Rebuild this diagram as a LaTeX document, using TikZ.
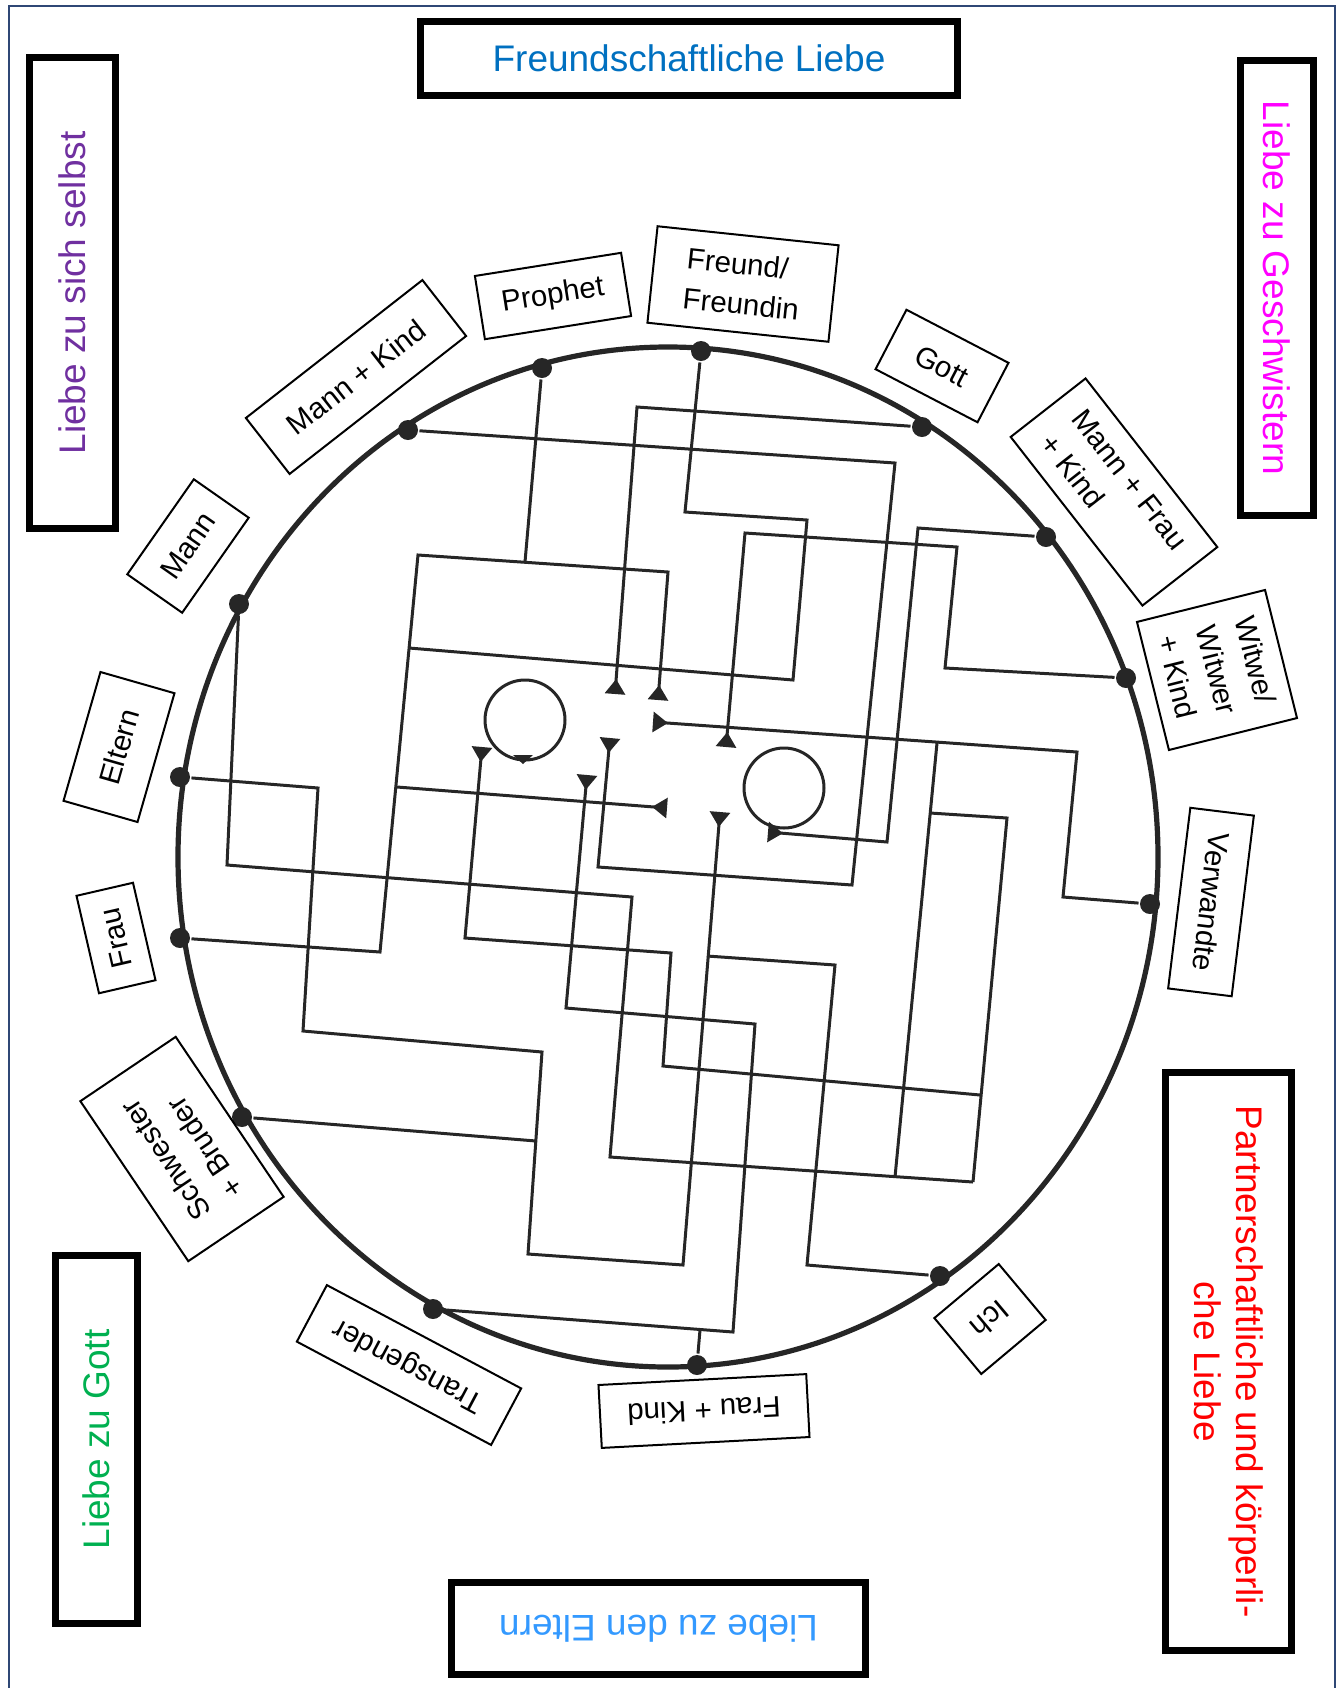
\documentclass[tikz,border=0pt]{standalone}
\usepackage{fontspec}
\setmainfont{Liberation Sans}
\usetikzlibrary{arrows.meta}

\definecolor{framenavy}{HTML}{2F4775}
\definecolor{freundblue}{HTML}{0070C0}
\definecolor{selbstpurple}{HTML}{7030A0}
\definecolor{geschwmagenta}{HTML}{FF00FF}
\definecolor{gottgreen}{HTML}{00B050}
\definecolor{elternblue}{HTML}{3399FF}
\definecolor{partnerred}{HTML}{FF0000}
\definecolor{ink}{HTML}{262626}

\tikzset{every picture/.style={line width=1.5pt}}
\tikzset{
  knot/.style={circle,fill=ink,inner sep=0pt,minimum size=10pt},
  rim/.style={draw=ink,line width=2.6pt},
  maze/.style={draw=ink,line width=1.5pt},
  endtip/.style={-{Triangle[reversed,length=7.5pt,width=10pt]}},
  labelbox/.style={draw,line width=1pt,inner sep=1pt,font=\fontsize{14.75}{20}\selectfont},
  titlebox/.style={draw,line width=3.5pt,inner sep=0pt,font=\fontsize{18.5}{21}\selectfont},
}

\begin{document}
\begin{tikzpicture}[x=0.5pt,y=0.5pt,yscale=-1,xscale=1]
%set diagram to the page: 1341 x 1688
\useasboundingbox (0,0) rectangle (1341,1688);

%Straight Lines: page frame
\draw[draw=framenavy,line width=1pt] (9,1688) -- (9,6) -- (1335,6) -- (1335,1688);

%Shape: Ellipse
\draw[rim] (668,857) ellipse [x radius=490,y radius=510];

%Knots on the ring
\node[knot] (dFreund) at (701,351) {};
\node[knot] (dProphet) at (542,368) {};
\node[knot] (dMannKind) at (408,430) {};
\node[knot] (dMann) at (239,604) {};
\node[knot] (dEltern) at (180,777) {};
\node[knot] (dFrau) at (180,938) {};
\node[knot] (dSchwester) at (242,1117) {};
\node[knot] (dTrans) at (433,1309) {};
\node[knot] (dFrauKind) at (697,1365) {};
\node[knot] (dIch) at (940,1276) {};
\node[knot] (dVerwandte) at (1150,904) {};
\node[knot] (dWitwe) at (1126,678) {};
\node[knot] (dMannFrau) at (1046,537) {};
\node[knot] (dGott) at (922,427) {};

%Line ends and junctions
\coordinate (eFrau) at (658,700);
\coordinate (eGott) at (615,694);
\coordinate (eMannKind) at (610,738);
\coordinate (eKreis) at (768,832);
\coordinate (eWitwe) at (726,747);
\coordinate (eVerwandte) at (653,722);
\coordinate (eMitte) at (667,808);
\coordinate (eRechts) at (482,747);
\coordinate (eEltern) at (720,812);
\coordinate (eTrans) at (587,775);
\coordinate (jProphet) at (525,562);
\coordinate (jFreund) at (409,648);
\coordinate (jLinks) at (397,787);
\coordinate (jVerw) at (937,743);
\coordinate (jUnten) at (895,1177);
\coordinate (jSchleife) at (930,813);
\coordinate (jMann) at (973,1182);
\coordinate (jRechts) at (980,1095);
\coordinate (jSchwester) at (536,1141);
\coordinate (jFrauKind) at (700,1330);
\coordinate (jIch) at (707,956);

%Straight Lines
\draw[maze,endtip] (dFrau) -- (380,952) -- (418,555) -- (668,572) -- (eFrau);
%Straight Lines
\draw[maze] (dProphet) -- (jProphet);
%Straight Lines
\draw[maze] (dFreund) -- (685,512) -- (807,520) -- (793,680) -- (jFreund);
%Straight Lines
\draw[maze,endtip] (jLinks) -- (eMitte);
%Straight Lines
\draw[maze,endtip] (dGott) -- (637,407) -- (eGott);
%Straight Lines
\draw[maze,endtip] (dMannKind) -- (895,463) -- (852,885) -- (598,867) -- (eMannKind);
%Straight Lines
\draw[maze,endtip] (dMannFrau) -- (918,528) -- (887,842) -- (eKreis);
%Straight Lines
\draw[maze,endtip] (dWitwe) -- (945,668) -- (957,547) -- (745,533) -- (eWitwe);
%Straight Lines
\draw[maze,endtip] (dVerwandte) -- (1063,897) -- (1077,752) -- (eVerwandte);
%Straight Lines
\draw[maze] (jVerw) -- (jUnten);
%Straight Lines
\draw[maze] (jSchleife) -- (1007,818) -- (jMann);
%Straight Lines
\draw[maze] (dMann) -- (227,865) -- (632,897) -- (610,1157) -- (jMann);
%Straight Lines
\draw[maze,endtip] (jRechts) -- (663,1066) -- (671,953) -- (465,938) -- (eRechts);
%Straight Lines
\draw[maze,endtip] (dEltern) -- (318,788) -- (303,1031) -- (542,1052) -- (528,1254) -- (683,1265) -- (eEltern);
%Straight Lines
\draw[maze] (dSchwester) -- (jSchwester);
%Straight Lines
\draw[maze,endtip] (dTrans) -- (733,1332) -- (755,1024) -- (566,1008) -- (eTrans);
%Straight Lines
\draw[maze] (dFrauKind) -- (jFrauKind);
%Straight Lines
\draw[maze] (dIch) -- (807,1265) -- (835,965) -- (jIch);

%Shape: Circle
\draw[maze] (525,720) circle [radius=40];
\fill[ink] (513,755) -- (533,755) -- (523,764) -- cycle;
%Shape: Circle
\draw[maze] (784,788) circle [radius=40];

% Text Node
\node[labelbox,rotate=9,minimum width=74pt,minimum height=32pt] (lProphet) at (553,296) {Prophet};
% Text Node
\node[labelbox,rotate=-6,minimum width=91pt,minimum height=48.5pt,align=left] (lFreund) at (743,284) {Freund/\\Freundin};
% Text Node
\node[labelbox,rotate=-27.5,minimum width=57.5pt,minimum height=33.5pt] (lGott) at (942,366) {Gott};
% Text Node
\node[labelbox,rotate=-52,minimum width=107pt,minimum height=47.5pt,align=left] (lMannFrau) at (1114,492) {Mann + Frau\\+ Kind};
% Text Node
\node[labelbox,rotate=-76,minimum width=66pt,minimum height=66pt,align=left] (lWitwe) at (1217,670) {Witwe/\\Witwer\\+ Kind};
% Text Node
\node[labelbox,rotate=-97,minimum width=91pt,minimum height=32pt] (lVerwandte) at (1211,902) {Verwandte};
% Text Node
\node[labelbox,rotate=-140,minimum width=42pt,minimum height=36.5pt] (lIch) at (990,1319) {Ich};
% Text Node
\node[labelbox,rotate=183,minimum width=104pt,minimum height=31.5pt] (lFrauKind) at (704,1411) {Frau + Kind};
% Text Node
\node[labelbox,rotate=152,minimum width=110pt,minimum height=32pt] (lTrans) at (409,1365) {Transgender};
% Text Node
\node[labelbox,rotate=124,minimum width=96.5pt,minimum height=57.5pt,align=left] (lSchwester) at (182,1149) {Schwester\\+ Bruder};
% Text Node
\node[labelbox,rotate=103,minimum width=50pt,minimum height=29pt] (lFrau) at (116,938) {Frau};
% Text Node
\node[labelbox,rotate=74,minimum width=67pt,minimum height=38.5pt] (lEltern) at (119,747) {Eltern};
% Text Node
\node[labelbox,rotate=55,minimum width=58pt,minimum height=33.5pt] (lMann) at (188,546) {Mann};
% Text Node
\node[labelbox,rotate=38,minimum width=112pt,minimum height=35.5pt] (lMannKind) at (356,377) {Mann + Kind};

% Text Node
\node[titlebox,text=freundblue,minimum width=268.5pt,minimum height=37pt] (tFreund) at (689,58.5) {Freundschaftliche Liebe};
% Text Node
\node[titlebox,text=selbstpurple,rotate=90,minimum width=235.5pt,minimum height=43pt] (tSelbst) at (72.5,293) {Liebe zu sich selbst};
% Text Node
\node[titlebox,text=geschwmagenta,rotate=-90,minimum width=227.5pt,minimum height=36.5pt] (tGeschw) at (1277,288) {Liebe zu Geschwistern};
% Text Node
\node[titlebox,text=gottgreen,rotate=90,minimum width=184pt,minimum height=41pt] (tGott) at (96.5,1439.5) {Liebe zu Gott};
% Text Node
\node[titlebox,text=elternblue,rotate=180,minimum width=207pt,minimum height=46pt] (tEltern) at (658.5,1628.5) {Liebe zu den Eltern};
% Text Node
\node[titlebox,text=partnerred,rotate=-90,minimum width=289pt,minimum height=63pt,align=center] (tPartner) at (1228.5,1361.5) {Partnerschaftliche und körperli-\\che Liebe};
\end{tikzpicture}
\end{document}
